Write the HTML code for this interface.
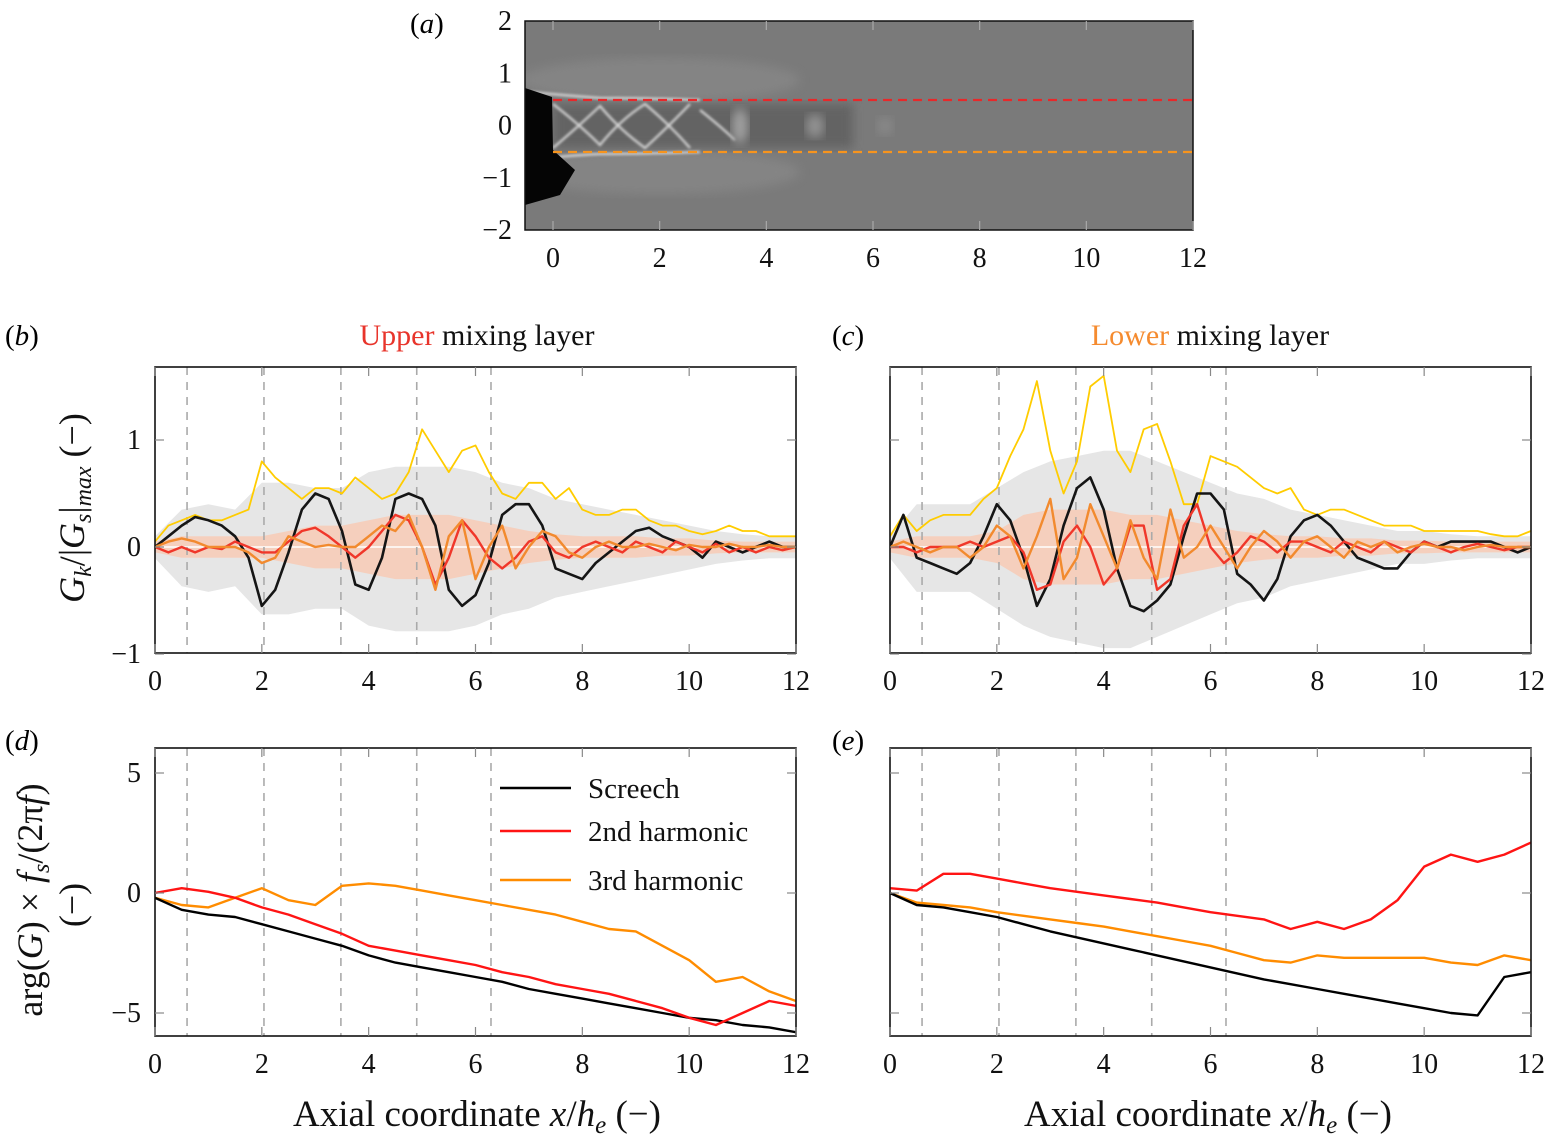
<!DOCTYPE html>
<html><head><meta charset="utf-8"><style>
html,body{margin:0;padding:0;background:#fff;}
svg{display:block;font-family:"Liberation Serif",serif;}
</style></head><body>
<svg id="fig" width="1551" height="1144" viewBox="0 0 1551 1144" xmlns="http://www.w3.org/2000/svg">
<defs>
<filter id="blur3"><feGaussianBlur stdDeviation="5"/></filter>
<filter id="blur1"><feGaussianBlur stdDeviation="1.2"/></filter>
<clipPath id="clipA"><rect x="525" y="21" width="668" height="209"/></clipPath>
</defs>
<g clip-path="url(#clipA)">
<rect x="525" y="21" width="668" height="209" fill="#7a7a7a"/>
<ellipse cx="660" cy="80" rx="140" ry="22" fill="#848484" filter="url(#blur3)"/>
<ellipse cx="660" cy="172" rx="140" ry="22" fill="#848484" filter="url(#blur3)"/>
<rect x="553" y="104" width="300" height="44" fill="#646464" filter="url(#blur3)"/>
<g fill="none" stroke="#d8d8d8" stroke-width="2.2" filter="url(#blur1)">
<path d="M553 104 Q580 125 600 145 Q620 120 645 104 Q670 125 690 148"/>
<path d="M553 148 Q580 125 600 106 Q620 130 645 148 Q670 125 690 104"/>
<path d="M700 110 Q720 126 735 140"/>
<path d="M530 92 Q560 95 600 98 Q640 98 700 100"/>
<path d="M530 160 Q560 156 600 154 Q640 154 700 152"/>
</g>
<ellipse cx="740" cy="126" rx="8" ry="18" fill="#a0a0a0" filter="url(#blur3)"/>
<ellipse cx="815" cy="126" rx="9" ry="12" fill="#929292" filter="url(#blur3)"/>
<ellipse cx="885" cy="126" rx="8" ry="9" fill="#888" filter="url(#blur3)"/>
<path d="M525 88 L552 97 L553 150 L575 170 L560 195 L525 205 Z" fill="#050505"/>
</g>
<rect x="525" y="21" width="668" height="209" fill="none" stroke="#111" stroke-width="1.5"/>
<line x1="553" y1="100" x2="1193" y2="100" stroke="#e8282a" stroke-width="2.2" stroke-dasharray="9,6"/>
<line x1="553" y1="152" x2="1193" y2="152" stroke="#f7941d" stroke-width="2.2" stroke-dasharray="9,6"/>
<g id="layer"></g>
</svg>
<script>
const bBlack=[0,0.1,0.2,0.28,0.25,0.2,0.1,-0.1,-0.55,-0.4,-0.05,0.35,0.5,0.45,0.15,-0.35,-0.4,-0.1,0.45,0.5,0.45,0.2,-0.4,-0.55,-0.45,-0.15,0.3,0.4,0.4,0.2,-0.2,-0.25,-0.3,-0.15,-0.05,0.05,0.15,0.18,0.1,0.05,0,-0.1,0.05,0,-0.05,0,0.05,0,0];
const bYellow=[0.05,0.2,0.25,0.3,0.25,0.25,0.3,0.35,0.8,0.65,0.55,0.45,0.55,0.55,0.5,0.65,0.55,0.45,0.5,0.7,1.1,0.9,0.7,0.9,0.95,0.7,0.5,0.45,0.6,0.6,0.45,0.55,0.35,0.3,0.3,0.35,0.35,0.25,0.2,0.2,0.15,0.12,0.15,0.2,0.15,0.15,0.1,0.1,0.1];
const bRed=[0,-0.05,0,-0.05,0,-0.02,0.05,0,-0.05,-0.05,0.05,0.15,0.18,0.1,0,-0.1,0,0.15,0.3,0.25,0,-0.35,-0.1,0.25,0.1,-0.1,-0.2,-0.1,0.05,0.1,-0.05,-0.1,0,0.05,0,-0.05,0.05,0,-0.05,0.05,0,-0.05,0.03,-0.05,0,-0.05,0,-0.03,0];
const bOrange=[0,0.05,0.08,0.05,0,0,0,-0.05,-0.15,-0.1,0.1,0.05,0,0.02,0,0,0.1,0.2,0.15,0.3,0,-0.4,0.1,0.25,-0.3,0,0.2,-0.2,0,0.15,0.1,-0.05,-0.1,0,0.05,0,0,0.03,0,-0.03,0.02,0,0,0.03,0,0,0.02,0,0];
const bGrey=[0.1,0.35,0.4,0.35,0.6,0.6,0.55,0.55,0.7,0.75,0.75,0.75,0.7,0.6,0.55,0.45,0.4,0.35,0.3,0.25,0.2,0.15,0.12,0.1,0.1];
const bPink=[0.05,0.1,0.1,0.1,0.1,0.15,0.2,0.2,0.25,0.3,0.3,0.3,0.25,0.2,0.15,0.12,0.1,0.1,0.1,0.08,0.08,0.06,0.05,0.05,0.05];

const cBlack=[0,0.3,-0.1,-0.15,-0.2,-0.25,-0.15,0.1,0.4,0.25,-0.1,-0.55,-0.3,0.2,0.55,0.65,0.35,-0.2,-0.55,-0.6,-0.5,-0.35,0.1,0.5,0.5,0.35,-0.25,-0.35,-0.5,-0.3,0.1,0.25,0.3,0.2,0.05,-0.1,-0.15,-0.2,-0.2,-0.05,0.05,0,0.05,0.05,0.05,0.05,0,-0.05,0];
const cYellow=[0.1,0.3,0.15,0.25,0.3,0.3,0.3,0.45,0.55,0.85,1.1,1.55,0.9,0.5,0.8,1.5,1.6,0.9,0.7,1.1,1.15,0.8,0.4,0.4,0.85,0.8,0.75,0.65,0.55,0.5,0.55,0.35,0.3,0.35,0.35,0.3,0.25,0.2,0.2,0.2,0.15,0.15,0.15,0.15,0.15,0.12,0.1,0.1,0.15];
const cRed=[0,0,-0.05,0,0,0,0.05,0,0.05,0.1,-0.05,-0.4,-0.35,0.05,0.2,0,-0.35,-0.2,0.2,0.2,-0.4,-0.3,0.2,0.4,0,-0.15,-0.05,0.1,0.05,-0.05,0.05,0.05,0,-0.05,0.05,0,-0.05,0.05,0,-0.05,0.05,0,-0.05,0,0.03,0,-0.03,0,0];
const cOrange=[0,0.05,0,-0.05,0,0,-0.1,0,0.2,0.1,-0.2,0.1,0.45,-0.3,-0.1,0.4,0.1,-0.2,0.25,-0.1,-0.3,0.35,-0.1,0,0.2,0,-0.2,0,0.15,0.05,-0.1,0.05,0.1,0,-0.1,0.05,0,0.05,-0.05,0,0.03,0,0,-0.03,0,0.02,0,0,0];
const cGrey=[0.1,0.4,0.4,0.4,0.55,0.7,0.8,0.85,0.9,0.9,0.8,0.7,0.6,0.5,0.45,0.35,0.3,0.25,0.2,0.15,0.15,0.12,0.1,0.1,0.1];
const cPink=[0.05,0.1,0.1,0.1,0.15,0.3,0.35,0.35,0.35,0.3,0.3,0.25,0.2,0.15,0.12,0.1,0.1,0.08,0.08,0.06,0.06,0.05,0.05,0.05,0.05];

const dBlack=[-0.2,-0.7,-0.9,-1.0,-1.3,-1.6,-1.9,-2.2,-2.6,-2.9,-3.1,-3.3,-3.5,-3.7,-4.0,-4.2,-4.4,-4.6,-4.8,-5.0,-5.2,-5.3,-5.5,-5.6,-5.8];
const dRed=[0,0.2,0.05,-0.2,-0.6,-0.9,-1.3,-1.7,-2.2,-2.4,-2.6,-2.8,-3.0,-3.3,-3.5,-3.8,-4.0,-4.2,-4.5,-4.8,-5.2,-5.5,-5.0,-4.5,-4.7];
const dOrange=[-0.2,-0.5,-0.6,-0.2,0.2,-0.3,-0.5,0.3,0.4,0.3,0.1,-0.1,-0.3,-0.5,-0.7,-0.9,-1.2,-1.5,-1.6,-2.2,-2.8,-3.7,-3.5,-4.1,-4.5];
const eBlack=[0,-0.5,-0.6,-0.8,-1.0,-1.3,-1.6,-1.85,-2.1,-2.35,-2.6,-2.85,-3.1,-3.35,-3.6,-3.8,-4.0,-4.2,-4.4,-4.6,-4.8,-5.0,-5.1,-3.5,-3.3];
const eRed=[0.2,0.1,0.8,0.8,0.6,0.4,0.2,0.05,-0.1,-0.25,-0.4,-0.6,-0.8,-0.95,-1.1,-1.5,-1.2,-1.5,-1.1,-0.3,1.1,1.6,1.3,1.6,2.1];
const eOrange=[0,-0.4,-0.5,-0.6,-0.8,-0.95,-1.1,-1.25,-1.4,-1.6,-1.8,-2.0,-2.2,-2.5,-2.8,-2.9,-2.6,-2.7,-2.7,-2.7,-2.7,-2.9,-3.0,-2.6,-2.8];

const shockPositions=[0.6,2.04,3.48,4.9,6.29];
const xTicks=[0,2,4,6,8,10,12];
const yTicksTop=[1,0,-1];
const yTicksBottom=[5,0,-5];
const aYTicks=[2,1,0,-1,-2];
const legendLabels=["Screech","2nd harmonic","3rd harmonic"];

const NS="http://www.w3.org/2000/svg";
const layer=document.getElementById('layer');
function mk(tag,attrs,parent){const e=document.createElementNS(NS,tag);for(const k in attrs)e.setAttribute(k,attrs[k]);(parent||layer).appendChild(e);return e;}
function txt(x,y,s,size,anchor,parent,extra){const e=mk('text',Object.assign({x:x,y:y,'font-size':size,'text-anchor':anchor||'middle',fill:'#111'},extra||{}),parent);e.textContent=s;return e;}
function makeScales(x0,x1,y0px,y0v,y1px,y1v){
  return {sx:v=>x0+(x1-x0)*v/12, sy:v=>y0px+(v-y0v)*(y1px-y0px)/(y1v-y0v)};
}
function linePath(arr,S){return arr.map((v,i)=>(i?'L':'M')+S.sx(i*12/(arr.length-1)).toFixed(1)+' '+S.sy(v).toFixed(1)).join(' ');}
function bandPath(arr,S,asym){
  const n=arr.length;let d='';
  for(let i=0;i<n;i++){d+=(i?'L':'M')+S.sx(i*12/(n-1)).toFixed(1)+' '+S.sy(arr[i]).toFixed(1);}
  for(let i=n-1;i>=0;i--){d+='L'+S.sx(i*12/(n-1)).toFixed(1)+' '+S.sy(-arr[i]*asym).toFixed(1);}
  return d+'Z';
}
function panel(id,box,S,yTicks,series,bands){
  const g=mk('g',{});
  
  
  const clipId='clip'+id;
  const cp=mk('clipPath',{id:clipId},g);mk('rect',{x:box[0],y:box[1],width:box[2]-box[0],height:box[3]-box[1]},cp);
  const plot=mk('g',{'clip-path':'url(#'+clipId+')'},g);
  if(bands){
    const gb=mk('path',{d:bandPath(bands[0],S,1.05),fill:'#e6e6e6'},plot);
    
    
    const pb=mk('path',{d:bandPath(bands[1],S,1),fill:'#f9c9b3',opacity:'0.8'},plot);
    
    
    mk('line',{x1:S.sx(0),x2:S.sx(12),y1:S.sy(0),y2:S.sy(0),stroke:'#fff',"stroke-width":1.5},plot);
  }
  shockPositions.forEach(s=>{
    const l=mk('line',{x1:S.sx(s),x2:S.sx(s),y1:box[1],y2:box[3],stroke:'#aaa','stroke-width':1.6,'stroke-dasharray':'8,7'},plot);
    
    
  });
  series.forEach(s=>{
    const p=mk('path',{d:linePath(s.data,S),fill:'none',stroke:s.color,'stroke-width':s.w||2.4,'stroke-linejoin':'round'},plot);
    
    
  });
  const fr=mk('rect',{x:box[0],y:box[1],width:box[2]-box[0],height:box[3]-box[1],fill:'none',stroke:'#111','stroke-width':1.6},g);
  
  
  xTicks.forEach(t=>{
    const x=S.sx(t);
    mk('line',{x1:x,x2:x,y1:box[3],y2:box[3]-9,stroke:'#888','stroke-width':1.2},g);
    mk('line',{x1:x,x2:x,y1:box[1],y2:box[1]+9,stroke:'#888','stroke-width':1.2},g);
    const tl=txt(x,box[3]+37,String(t),28,'middle',g);
    
    
  });
  yTicks.forEach(t=>{
    const y=S.sy(t);
    mk('line',{x1:box[0],x2:box[0]+9,y1:y,y2:y,stroke:'#888','stroke-width':1.2},g);
    mk('line',{x1:box[2],x2:box[2]-9,y1:y,y2:y,stroke:'#888','stroke-width':1.2},g);
    if(id==='b'||id==='d'){
      const yl=txt(box[0]-14,y+9,t<0?'−'+Math.abs(t):String(t),28,'end',g);
      
      
    }
  });
}
const Sa={sx:v=>553+v*640/12, sy:v=>125.5-v*52.25};
xTicks.forEach(t=>{
  const l=txt(Sa.sx(t),267,String(t),28,'middle');
  
  
  mk('line',{x1:Sa.sx(t),x2:Sa.sx(t),y1:21,y2:30,stroke:'#aaa','stroke-width':1.2});
  mk('line',{x1:Sa.sx(t),x2:Sa.sx(t),y1:230,y2:221,stroke:'#aaa','stroke-width':1.2});
});
aYTicks.forEach(t=>{
  const l=txt(512,Sa.sy(t)+9,t<0?'−'+Math.abs(t):String(t),28,'end');
  
  
});
const Sb=makeScales(155,796,547,0,440,1);
const Sc=makeScales(890,1531,547,0,440,1);
const Sd=makeScales(155,796,893,0,773,5);
const Se=makeScales(890,1531,893,0,773,5);
panel('b',[155,367,796,653],Sb,yTicksTop,[
 {data:bYellow,color:'#ffcc00',w:1.8,name:'envelope-line'},
 {data:bBlack,color:'#151515',w:2.6,name:'screech-line'},
 {data:bRed,color:'#f0372a',name:'2nd-harmonic-line'},
 {data:bOrange,color:'#f28a2e',name:'3rd-harmonic-line'}],[bGrey,bPink]);
panel('c',[890,367,1531,653],Sc,yTicksTop,[
 {data:cYellow,color:'#ffcc00',w:1.8,name:'envelope-line'},
 {data:cBlack,color:'#151515',w:2.6,name:'screech-line'},
 {data:cRed,color:'#f0372a',name:'2nd-harmonic-line'},
 {data:cOrange,color:'#f28a2e',name:'3rd-harmonic-line'}],[cGrey,cPink]);
panel('d',[155,748,796,1036],Sd,yTicksBottom,[
 {data:dOrange,color:'#ff8c00',name:'3rd-harmonic-phase'},
 {data:dBlack,color:'#000',name:'screech-phase'},
 {data:dRed,color:'#ff1414',name:'2nd-harmonic-phase'}]);
panel('e',[890,748,1531,1036],Se,yTicksBottom,[
 {data:eOrange,color:'#ff8c00',name:'3rd-harmonic-phase'},
 {data:eBlack,color:'#000',name:'screech-phase'},
 {data:eRed,color:'#ff1414',name:'2nd-harmonic-phase'}]);
const legColors=['#000','#ff1414','#ff8c00'];
const legY=[788,831,880];
legendLabels.forEach((s,i)=>{
  const g=mk('g',{});
  
  
  mk('rect',{x:492,y:legY[i]-20,width:290,height:40,fill:'#fff'},g);
  mk('line',{x1:500,x2:571,y1:legY[i],y2:legY[i],stroke:legColors[i],'stroke-width':2.6},g);
  txt(588,legY[i]+10,s,29,'start',g);
});
</script>
<svg width="1551" height="1144" style="position:absolute;left:0;top:0;font-family:'Liberation Serif',serif" xmlns="http://www.w3.org/2000/svg">
<text x="410" y="33" font-size="29">(<tspan font-style="italic">a</tspan>)</text>
<text x="5" y="345" font-size="29">(<tspan font-style="italic">b</tspan>)</text>
<text x="832" y="345" font-size="29">(<tspan font-style="italic">c</tspan>)</text>
<text x="5" y="750" font-size="29">(<tspan font-style="italic">d</tspan>)</text>
<text x="832" y="750" font-size="29">(<tspan font-style="italic">e</tspan>)</text>
<text x="477" y="345" font-size="30" text-anchor="middle" fill="#111"><tspan fill="#e8342b">Upper</tspan> mixing layer</text>
<text x="1210" y="345" font-size="30" text-anchor="middle" fill="#111"><tspan fill="#f58b2f">Lower</tspan> mixing layer</text>
<text transform="translate(84,508) rotate(-90)" font-size="36" text-anchor="middle" fill="#111"><tspan font-style="italic">G</tspan><tspan font-size="24" dy="7" font-style="italic">k</tspan><tspan dy="-7">/|</tspan><tspan font-style="italic">G</tspan><tspan font-size="24" dy="7" font-style="italic">s</tspan><tspan dy="-7">|</tspan><tspan font-size="24" dy="7" font-style="italic">max</tspan><tspan dy="-7"> (−)</tspan></text>
<text transform="translate(42,900) rotate(-90)" font-size="36" text-anchor="middle" fill="#111">arg(<tspan font-style="italic">G</tspan>) × <tspan font-style="italic">f</tspan><tspan font-size="24" dy="7" font-style="italic">s</tspan><tspan dy="-7">/(2π</tspan><tspan font-style="italic">f</tspan>)</text>
<text transform="translate(84,905) rotate(-90)" font-size="36" text-anchor="middle" fill="#111">(−)</text>
<text x="477" y="1126" font-size="37" text-anchor="middle" fill="#111">Axial coordinate <tspan font-style="italic">x</tspan>/<tspan font-style="italic">h</tspan><tspan font-size="25" dy="7" font-style="italic">e</tspan><tspan dy="-7"> (−)</tspan></text>
<text x="1208" y="1126" font-size="37" text-anchor="middle" fill="#111">Axial coordinate <tspan font-style="italic">x</tspan>/<tspan font-style="italic">h</tspan><tspan font-size="25" dy="7" font-style="italic">e</tspan><tspan dy="-7"> (−)</tspan></text>
</svg>
</body></html>
